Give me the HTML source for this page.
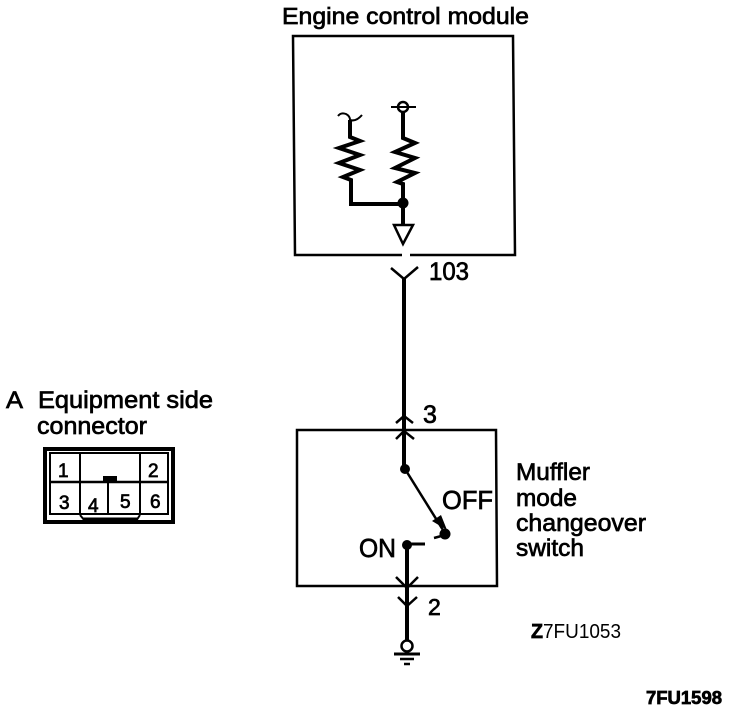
<!DOCTYPE html>
<html>
<head>
<meta charset="utf-8">
<style>
html,body{margin:0;padding:0;background:#fff;}
svg{display:block;}
text{font-family:"Liberation Sans",sans-serif;fill:#000;stroke:#000;stroke-width:.7px;}
</style>
</head>
<body>
<svg width="736" height="712" viewBox="0 0 736 712" xmlns="http://www.w3.org/2000/svg">
<g fill="none" stroke="#000" stroke-linecap="butt" stroke-linejoin="miter">
  <!-- ECM box -->
  <path d="M293 36H513L515 255H295Z" stroke-width="2.5"/>
  <rect x="402" y="250" width="8" height="8" fill="#fff" stroke="none"/>
  <!-- Resistor left -->
  <path d="M338 116Q341 112 346 114Q350 116 350 120Q356 122 362 115" stroke-width="2"/>
  <path d="M350 120V137L360 141L339 148L360 155L339 163L360 170L343 177L351 180V204H403" stroke-width="4"/>
  <!-- Resistor right -->
  <circle cx="403" cy="107" r="5" stroke-width="2.5"/>
  <path d="M391 107H416" stroke-width="2"/>
  <path d="M403 112V138L415 143L395 152L415 158L395 168L415 173L397 182L403 184V224" stroke-width="4"/>
  <circle cx="403" cy="203" r="5.5" fill="#000" stroke="none"/>
  <path d="M394 225H413L403 244Z" stroke-width="2.5"/>
  <!-- Connector 103 -->
  <path d="M391 268L404 279L418 267" stroke-width="2.5"/>
  <path d="M404 278V467" stroke-width="4"/>
  <!-- Switch box -->
  <path d="M297 430H496L497 586H297Z" stroke-width="2.5"/>
  <path d="M396 423L404 416L413 423M396 439L404 431L414 439" stroke-width="2.5"/>
  <circle cx="405" cy="469" r="5" fill="#000" stroke="none"/>
  <path d="M405 469L443 530" stroke-width="2.5"/>
  <path d="M432 521L441 515L447 530Z" fill="#000" stroke="none"/>
  <circle cx="445" cy="534" r="5.5" fill="#000" stroke="none"/>
  <path d="M434 538L445 535" stroke-width="2.5"/>
  <circle cx="407" cy="545" r="5" fill="#000" stroke="none"/>
  <path d="M407 544H425" stroke-width="3"/>
  <path d="M407 545V640" stroke-width="4"/>
  <path d="M396 577L407 588L418 577M398 597L407 606L417 597" stroke-width="2.5"/>
  <!-- Ground -->
  <circle cx="407" cy="646" r="5.5" stroke-width="2.5"/>
  <path d="M394 654H420" stroke-width="3"/>
  <path d="M400 659H414" stroke-width="2.5"/>
  <path d="M404 664H410" stroke-width="2.5"/>
  <!-- Connector diagram -->
  <rect x="45" y="449" width="128" height="73" stroke-width="4"/>
  <path d="M50 453H168V514H50Z" stroke-width="2"/>
  <path d="M50 482H168" stroke-width="2.5"/>
  <path d="M80 453V482M140 453V482M80 482V515M108 482V515M140 482V515" stroke-width="2"/>
  <path d="M80 515L85 521H136L140 515" stroke-width="2"/>
  <path d="M83 520H138" stroke-width="5"/>
  <rect x="103" y="476" width="14" height="6" fill="#000" stroke="none"/>
</g>
<text x="282" y="24" font-size="23" textLength="247" lengthAdjust="spacingAndGlyphs">Engine control module</text>
<text x="429" y="280" font-size="25" textLength="40" lengthAdjust="spacingAndGlyphs">103</text>
<text x="423" y="423" font-size="25">3</text>
<text x="428" y="615" font-size="23">2</text>
<text x="442" y="509" font-size="26" textLength="51" lengthAdjust="spacingAndGlyphs">OFF</text>
<text x="359" y="557" font-size="26" textLength="37" lengthAdjust="spacingAndGlyphs">ON</text>
<text x="516" y="480" font-size="24" textLength="74" lengthAdjust="spacingAndGlyphs">Muffler</text>
<text x="516" y="506" font-size="24" textLength="61" lengthAdjust="spacingAndGlyphs">mode</text>
<text x="516" y="531" font-size="24" textLength="130" lengthAdjust="spacingAndGlyphs">changeover</text>
<text x="516" y="556" font-size="24" textLength="68" lengthAdjust="spacingAndGlyphs">switch</text>
<text x="6" y="408" font-size="24" textLength="17" lengthAdjust="spacingAndGlyphs">A</text>
<text x="38" y="408" font-size="24" textLength="175" lengthAdjust="spacingAndGlyphs">Equipment side</text>
<text x="37" y="434" font-size="24" textLength="110" lengthAdjust="spacingAndGlyphs">connector</text>
<g font-size="19">
  <text x="58" y="477">1</text>
  <text x="148" y="477">2</text>
  <text x="59" y="509">3</text>
  <text x="88" y="512">4</text>
  <text x="120" y="508">5</text>
  <text x="150" y="508">6</text>
</g>
<text x="531" y="638" font-size="20" font-weight="bold" textLength="12" lengthAdjust="spacingAndGlyphs">Z</text>
<text x="543" y="638" font-size="20" textLength="78" lengthAdjust="spacingAndGlyphs" style="stroke-width:0">7FU1053</text>
<text x="646" y="704" font-size="18" font-weight="bold" textLength="76" lengthAdjust="spacingAndGlyphs">7FU1598</text>
</svg>
</body>
</html>
